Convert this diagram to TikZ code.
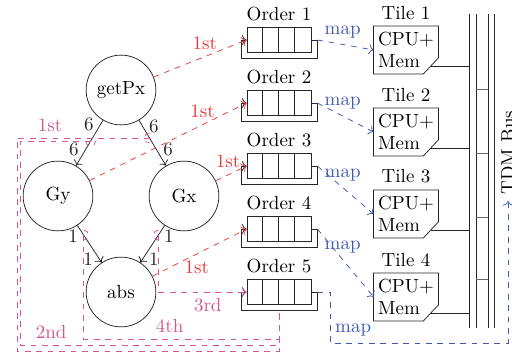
\documentclass[tikz,border=0pt]{standalone}
\usepackage{tikz}
\usetikzlibrary{arrows.meta, positioning, calc}
\definecolor{ordred}{RGB}{240,55,55}
\definecolor{chanpink}{RGB}{212,85,145}
\definecolor{mapblue}{RGB}{65,90,175}

\begin{document}
\begin{tikzpicture}[x=0.0185cm, y=0.0185cm,
  actor/.style={circle, draw=black!85, minimum size=1.29cm, inner sep=0pt},
  queue/.style={rectangle, draw=black!85, minimum width=1.184cm, minimum height=0.46cm, inner sep=0pt},
  tile/.style={rectangle, minimum width=1.184cm, minimum height=0.87cm, inner sep=0pt, align=left},
  edge/.style={->, black!85},
  first/.style={->, dashed, ordred},
  chan/.style={dashed, chanpink},
  map/.style={->, dashed, mapblue}]
  \useasboundingbox (0,0) rectangle (512,-354);
  % actors
  \node[actor] (getPx) at (121,-90) {getPx};
  \node[actor] (Gy) at (58,-196) {Gy};
  \node[actor] (Gx) at (184,-196) {Gx};
  \node[actor] (abs) at (121,-292) {abs};
  % edges with rates, channel points on them
  \draw[edge] (getPx) -- (Gy) node[pos=0.1, left]{6} node[pos=0.65, left]{6} coordinate[pos=0.46] (chGy);
  \draw[edge] (getPx) -- (Gx) node[pos=0.13, right]{6} node[pos=0.65, right]{6} coordinate[pos=0.39] (chGx);
  \draw[edge] (Gy) -- (abs) node[pos=0.3, left]{1} node[pos=0.92, left]{1} coordinate[pos=0.26] (chGyA);
  \draw[edge] (Gx) -- (abs) node[pos=0.3, right]{1} node[pos=0.92, right]{1} coordinate[pos=0.26] (chGxA);
  % static orders
  \foreach \i/\y in {1/40,2/103,3/166,4/229,5/292}{
    \node[queue, label={above:Order \i}] (ord\i) at (279,-\y) {};
    \draw[black!85] ($(ord\i.south west)+(16,0)$) -- ($(ord\i.north west)+(16,0)$)
      ($(ord\i.south west)+(32,0)$) -- ($(ord\i.north west)+(32,0)$)
      ($(ord\i.south west)+(48,0)$) -- ($(ord\i.north west)+(48,0)$);
    \coordinate (out\i) at ($(ord\i.east)+(6,0)$);
    \coordinate (ret\i) at ($(ord\i.south)+(0,-5.5)$);
    \draw[->, black!85] (ord\i.east) -- (out\i) -- ++(0,-18) -- ++(-76,0) -- ++(0,18) -- (ord\i.west);
  }
  % tiles and bus
  \coordinate (busL) at (469,0);
  \foreach \i/\y in {1/50,2/132,3/214,4/297}{
    \node[tile, label={above:Tile \i}] (tile\i) at (406,-\y) {CPU+\\Mem};
    \draw[black!85] (tile\i.north west) -- (tile\i.north east) -- ($(tile\i.south east)+(0,16)$)
      -- ($(tile\i.south east)+(-15,0)$) -- (tile\i.south west) -- cycle;
    \coordinate (tap\i) at ($(tile\i.south east)+(-7.5,8)$);
    \draw[black!85] (tap\i) -- (tap\i -| busL);
  }
  \draw[black!85] (469,-14) -- (469,-328) (476,-14) -- (476,-328)
    (488,-14) -- (488,-328) (494,-14) -- (494,-328);
  \draw[black!60] (476,-89) -- (488,-89) (476,-153) -- (488,-153)
    (476,-217) -- (488,-217) (476,-279) -- (488,-279);
  \node[rotate=90, anchor=west] (bus) at (508,-201) {TDM Bus};
  % first firings
  \draw[first] (getPx) -- node[pos=0.55, above]{1st} (ord1.west);
  \draw[first] (Gy) -- node[pos=0.72, above]{1st} (ord2.west);
  \draw[first] (Gx) -- node[pos=0.4, above]{1st} (ord3.west);
  \draw[first] (abs) -- node[pos=0.47, below]{1st} (ord4.west);
  % channels on the bus order
  \draw[chan] (chGy) ++(-5,0) arc[start angle=180, end angle=360, radius=0.0925cm];
  \draw[chan] (chGx) ++(0,5) arc[start angle=90, end angle=270, radius=0.0925cm];
  \draw[chan] (chGyA) ++(0,5) arc[start angle=90, end angle=-90, radius=0.0925cm];
  \draw[chan] (chGxA) ++(0,5) arc[start angle=90, end angle=270, radius=0.0925cm];
  \draw[chan] (chGx) -| node[pos=0.375, above]{1st} (17,-351) -| (ret5);
  \draw[chan] (chGy) -| (20,-345) -| node[pos=0.06, above]{2nd} (ret5);
  \draw[chan] (chGyA) |- node[pos=0.72, above]{4th} (279,-339) -- (ret5);
  \draw[chan, ->] (chGxA) |- node[pos=0.78, below]{3rd} (ord5.west);
  % mapping
  \draw[map] (out1) -- node[pos=0.45, above]{map} (tile1.west);
  \draw[map] (out2) -- node[pos=0.45, above]{map} (tile2.west);
  \draw[map] (out3) -- node[pos=0.45, above]{map} (tile3.west);
  \draw[map] (out4) -- node[pos=0.45, above]{map} (tile4.west);
  \draw[map] (out5) -| (330,-343) -| node[pos=0.065, above]{map} (bus.west);
\end{tikzpicture}
\end{document}
